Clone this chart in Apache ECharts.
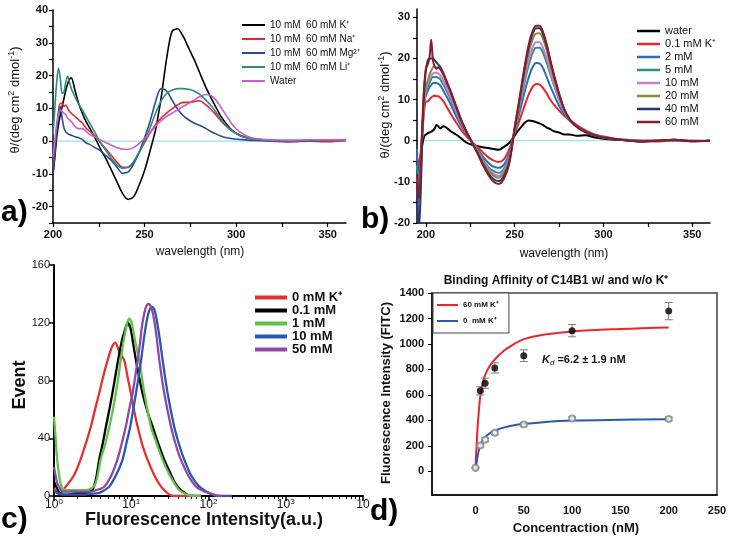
<!DOCTYPE html>
<html><head><meta charset="utf-8">
<script src="https://cdn.jsdelivr.net/npm/echarts@6.0.0/dist/echarts.min.js"></script>
<style>html,body{margin:0;padding:0;background:#fff}#c{width:730px;height:540px}</style>
</head><body><div id="c"></div>
<script>
// ---------- Panel a: CD spectra, different cations ----------
const A_NM = [200,201,202,203,204,205,206,207,208,209,210,212,214,216,218,220,223,226,229,232,235,238,241,244,247,250,253,256,259,262,265,268,271,274,277,280,283,286,289,292,295,298,302,306,310,315,320,330,340,350,360];
const A_K = [-10,-5,1,5,8,10.5,13,15.5,17.5,18.8,19.3, 15.5,11.5,8.5,6,4, 1,-2.5,-5.5,-9,-12.5,-16,-17.8,-17,-13.5,-9,-3,3.5,13,25,33.5,34.3,32,28.5,25,21,17,13.5,10.3,7.3,5,3.2, 1.8,1,0.6, 0.4,0.2, 0,0.2,0.2,0.2];
const A_NA = [-8,-2,4,9,11.5,11.5,10.5,11,10,9,8.5, 7.5,6.5,5.5,4,3, 1.5,-0.5,-2.5,-4.5,-6.5,-8,-8,-6.5,-3.5,-0.5,2.5,5,7,8.5,9.8,11,11.8,11.8,12,12.3,11.3,9.8,8,6,4.3,3, 1.8,1,0.5, 0.2,0, -0.3,0,-0.2,0.2];
const A_MG = [-10,-4,3,8,10.5,7,4,2.8,2.3,2,1.8, 1.3,1,0.5,-0.5,-1, -2,-3,-4.5,-6,-8,-9.8,-9.5,-7,-3.5,1,6,12,16,15.3,12.5,9.8,7.8,6.5,5.5,4.8,4,3,2.2,1.5,1,0.7, 0.5,0.3,0.2, 0.1,0, 0,0.1,0.2,0.3];
const A_LI = [2,10,18,22.3,19,14.5,15,18,19.8,18,16, 13.5,11.3,9.5,7.5,5.5, 2.5,-0.5,-3,-5.5,-7.3,-8.3,-8,-6.3,-3.3,0,4,8.5,12.3,14.5,15.5,16,16,15.8,15.3,14.3,12.8,11,8.8,6.5,4.5,3, 1.7,1,0.6, 0.3,0.2, 0,0.2,0.3,0.3];
const A_WATER = [-5,0,5,8,9.5,9,8.5,8,7,6.5,6, 4.5,3.8,3.8,3,2, 1.2,0.3,-0.5,-1.3,-2,-2.5,-2.5,-2,-0.8,0.8,2.5,4.5,6.2,7.5,8.5,9.5,10.5,11.5,12.5,13.5,14.2,14,12.5,10,7.5,5, 2.8,1.5,0.8, 0.5,0.3, 0.3,0.4,0.4,0.5];
const A_ZERO = [[200,0],[360,0]];
const A_XTICKS = [200,225,250,275,300,325,350];
const A_XLABELS = [200,250,300,350];
const A_YTICKS = [-25,-20,-15,-10,-5,0,5,10,15,20,25,30,35,40];
const A_YLABELS = [-20,-10,0,10,20,30,40];

// ---------- Panel b: CD spectra, K+ titration ----------
const B_NM = [195,196,197,198,199,200,201,202,203,204,205,206,207,208, 210,212,214, 217,220,223,226,229,232,235,238,241,244,247,250, 252,254,256,258,260,262,264,266,268,270,272, 275,278,281, 285, 290,295,300,305,310, 320,330,340,350,360];
const B_WATER = [-8,-6,-4,-1,1,1.5,1.8,2,2.2,2.5,3,3.8,3.5,3, 3.5,3,2.3, 1.5,0.5,-0.5,-1,-1.3,-1.6,-1.8,-2,-2.2,-1.5,-0.5,1.2, 2.5,3.5,4.5,4.9,4.8,4.5,4.2,3.8,3.2,2.8,2.3, 2,1.5,1.5, 1.2, 1.3,0.8,0.5,0.3,0.2, 0,0,0.2,-0.1,0];
const B_K01 = [-4,-6,-3,2,7,9.5,9.5,10,10.5,10.8,11,10.8,10.8,10.5, 9.5,8,6.5, 4.5,2.5,1,-0.3,-1.5,-2.8,-4,-4.8,-5.2,-4.5,-2,1.8, 4,6.5,9,11.3,13,13.8,13.7,12.8,11.5,10,8.8, 7.3,6,5, 3.8, 2.5,1.5,1,0.6,0.3, 0,-0.2,0,0,-0.1];
const B_K2 = [-2,-10,-6,3,9,11,12,13,13.5,14,14,14,13.8,13.5, 12,10.5,8.8, 6,3.5,1.5,-0.3,-2,-3.8,-5.3,-6.3,-6.6,-5.8,-3,2, 5.5,9,12.5,15.5,17.8,18.9,18.8,17.6,15.5,13.3,11.3, 8.5,6.3,4.8, 3.5, 2.2,1.4,0.9,0.5,0.3, 0,0,0.1,0,0];
const B_K5 = [-6,-12,-8,2,9,12,13,14,15,15.5,15.5,15.5,15.3,15, 13.5,11.8,10, 7,4.2,1.8,-0.3,-2.3,-4.5,-6.3,-7.4,-7.8,-6.8,-3.8,2.3, 6.5,11,15,18.5,21.2,22.6,22.6,21.3,19,16.3,13.6, 10,7,5, 3.4, 2.1,1.3,0.8,0.5,0.2, -0.2,0,0.1,-0.1,0];
const B_K10 = [-8,-18,-12,1,9,12.5,14,15,15.8,16.3,16.5,16.5,16.3,16, 14.5,12.5,10.5, 7.3,4.3,1.8,-0.4,-2.5,-4.8,-6.8,-8,-8.5,-7.3,-4,2.5, 7,11.8,16,19.8,22.5,23.9,23.9,22.5,20,17,14, 10.2,7,5, 3.3, 2,1.3,0.8,0.5,0.2, -0.2,0,0.1,-0.1,0];
const B_K20 = [-10,-15,-9,2,10,13.5,14.5,16,17,17.8,18,17.8,17.8,17.5, 15.8,13.6,11.5, 8,4.7,2,-0.4,-2.7,-5.1,-7.2,-8.5,-9,-7.8,-4.5,2.7, 7.5,12.5,17.3,21.5,24.5,26,26.1,24.7,22,18.5,15.2, 11,7.4,5.2, 3.4, 2.1,1.3,0.8,0.5,0.2, -0.2,0,0.1,-0.1,0];
const B_K40 = [-10,-22,-14,2,12,17,19.5,20,20,20,19.5,19,18.5,18, 16.3,14,11.8, 8.2,4.8,2,-0.5,-2.9,-5.5,-7.8,-9.3,-9.8,-8.5,-5,3, 8,13.3,18.5,22.8,25.8,27.3,27.3,25.8,23,19.4,16, 11.3,7.5,5.2, 3.4, 2.1,1.3,0.8,0.5,0.2, -0.2,0,0.2,-0.1,0];
const B_K60 = [-8,-14,-8,4,13,17.5,18.5,20,24.5,19.5,18,17.5,17.8,17.5, 16,14,12, 8.5,5,2.1,-0.5,-3,-5.8,-8.2,-9.9,-10.5,-9.2,-5.5,3.2, 8.3,13.8,19,23.5,26.5,27.9,27.9,26.4,23.5,19.8,16.3, 11.5,7.6,5.2, 3.4, 2.1,1.3,0.8,0.5,0.2, -0.2,0,0.2,-0.2,0];
const B_ZERO = [[198,0],[360,0]];
const B_XTICKS = [200,225,250,275,300,325,350];
const B_XLABELS = [200,250,300,350];
const B_YTICKS = [-20,-15,-10,-5,0,5,10,15,20,25,30];
const B_YLABELS = [-20,-10,0,10,20,30];

// ---------- Panel c: flow cytometry histograms ----------
const C_K0 = [[1,5],[1.1,3],[1.2,2],[1.4,6],[1.8,14],[2.2,25],[2.6,37],[3,48],[3.4,60],[3.84,71],[4.3,82],[5,95],[5.6,103],[6.2,106],[7,100],[8.1,94],[9,82],[9.9,71],[11,58],[12.1,48],[14,35],[16.3,25],[20,14],[24.3,6.5],[28,3],[31,1],[35,0],[60,0]];
const C_K01 = [[1,10],[1.1,5],[1.2,2],[1.3,1],[1.5,1],[2,2],[2.5,2],[2.8,3],[3.14,4],[3.5,12],[3.84,25],[4.3,37],[4.7,48],[5.3,62],[6,78],[6.8,95],[7.6,108],[8.4,116],[9,120],[9.8,116],[10.7,104],[11.5,94],[12.7,82],[14,71],[16.3,58],[18.9,48],[22.5,36],[26.8,25],[32,16],[37,9],[44,4],[50,2],[57,0],[80,0]];
const C_K1 = [[1,55],[1.05,40],[1.1,25],[1.2,10],[1.3,5],[1.5,4],[2,4],[2.5,4],[3,5],[3.4,8],[3.7,15],[4,25],[4.6,36],[5.2,48],[5.8,60],[6.3,71],[6.8,82],[7.3,94],[8,108],[8.7,118],[9.4,123],[10,121],[11,110],[12,100],[12.7,94],[14.8,71],[18,48],[21.5,36],[25.5,25],[31,15],[36,9],[42,4],[50,1.5],[60,0],[80,0]];
const C_K10 = [[1,4],[1.1,2],[1.3,1],[1.6,1],[2,1],[2.5,1],[3,1.5],[3.8,2],[4.5,4],[5.2,6.5],[6.3,14],[7.7,25],[8.7,37],[9.7,48],[10.6,60],[11.5,71],[12.4,82],[13.4,94],[14.5,108],[15.7,120],[17,128],[18.5,131],[20,129],[22,118],[23.8,106],[25.5,94],[29.6,71],[36,48],[42,35],[48.7,25],[60,14],[76,6.5],[95,3],[113,1],[140,0],[200,0]];
const C_K50 = [[1,20],[1.05,14],[1.1,9],[1.2,5],[1.3,3],[1.6,3],[2,3],[2.5,3],[3,3],[3.5,4],[4,5],[4.5,6.5],[5.5,14],[6.6,25],[7.5,36],[8.5,48],[9.4,60],[10.4,71],[11.2,82],[12.1,94],[13,106],[13.8,118],[14.8,127],[15.8,132],[16.8,133],[18.3,130],[19.8,122],[21.3,110],[23.1,94],[26.8,71],[32.7,48],[38,35],[44,25],[55,14],[69,6.5],[90,3],[126,0.5],[150,0]];
const C_MINOR = [2,3,4,5,6,7,8,9,20,30,40,50,60,70,80,90,200,300,400,500,600,700,800,900,2000,3000,4000,5000,6000,7000,8000,9000];
const C_XLABELS = {0:'{b|10}{s|0}',1:'{b|10}{s|1}',2:'{b|10}{s|2}',3:'{b|10}{s|3}',4:'{b|10}'};

// ---------- Panel d: binding affinity ----------
const D_FIT_X = [0,1,2,3,4,5,7,10,15,20,30,40,50,70,100,150,200];
const D_FIT_K60 = [20,180,320,430,520,590,680,755,830,878,950,1000,1038,1072,1098,1118,1130];
const D_FIT_K0 = [0,60,110,150,180,205,238,268,300,320,345,362,372,386,398,405,409];
const D_K60_X = [5,10,20,50,100,200];
const D_K60_MEAN = [632,692,812,908,1104,1258];
const D_K60_ERR = [32,40,40,46,48,68];
const D_K0_X = [0,5,10,20,50,100,200];
const D_K0_MEAN = [28,202,248,302,368,414,411];
const D_K0_ERR = [0,12,15,15,15,12,15];
const D_XLABELS = [0,50,100,150,200,250];
const D_YLABELS = [0,200,400,600,800,1000,1200,1400];

// ---------- helpers ----------
const FONT = "'Liberation Sans', Arial, Helvetica, sans-serif";
const zip = (xs, ys) => xs.map((x, i) => [x, ys[i]]);
const zip3 = (xs, ys, es) => xs.map((x, i) => [x, ys[i], es[i]]);
const plain = v => String(v);

function line(name, data, color, xi, width, extra) {
  return Object.assign({
    name, type: 'line', data, xAxisIndex: xi, yAxisIndex: xi,
    showSymbol: false, symbol: 'none', smooth: 0.3,
    lineStyle: { color, width }, itemStyle: { color }, z: 3
  }, extra || {});
}

function cdX(grid, min, ticks, labels) {
  return {
    gridIndex: grid, type: 'value', min, max: 360,
    axisLine: { onZero: false, lineStyle: { color: '#000', width: 1.5 } },
    axisTick: { show: true, length: 4, customValues: ticks, lineStyle: { color: '#000', width: 1.2 } },
    axisLabel: { customValues: labels, formatter: plain, margin: 6, fontSize: 11, fontWeight: 'bold', color: '#111', fontFamily: FONT },
    splitLine: { show: false }
  };
}
function cdY(grid, min, max, ticks, labels, margin) {
  return {
    gridIndex: grid, type: 'value', min, max,
    axisLine: { show: true, onZero: false, lineStyle: { color: '#000', width: 1.5 } },
    axisTick: { show: true, length: 4, customValues: ticks, lineStyle: { color: '#000', width: 1.2 } },
    axisLabel: { customValues: labels, formatter: plain, margin, fontSize: 11, fontWeight: 'bold', color: '#111', fontFamily: FONT },
    splitLine: { show: false }
  };
}

function errRender(params, api) {
  const x = api.value(0), y = api.value(1), e = api.value(2);
  const hi = api.coord([x, y + e]), lo = api.coord([x, y - e]);
  const w = 4, st = { stroke: '#7d7d7d', lineWidth: 1 };
  return { type: 'group', children: [
    { type: 'line', shape: { x1: hi[0], y1: hi[1], x2: lo[0], y2: lo[1] }, style: st },
    { type: 'line', shape: { x1: hi[0] - w, y1: hi[1], x2: hi[0] + w, y2: hi[1] }, style: st },
    { type: 'line', shape: { x1: lo[0] - w, y1: lo[1], x2: lo[0] + w, y2: lo[1] }, style: st }
  ]};
}

const A_NAMES = ['10 mM  60 mM K\u207A', '10 mM  60 mM Na\u207A', '10 mM  60 mM Mg\u00B2\u207A', '10 mM  60 mM Li\u207A', 'Water'];
const B_NAMES = ['water', '0.1 mM K\u207A', '2 mM', '5 mM', '10 mM', '20 mM', '40 mM', '60 mM'];
const C_NAMES = ['0 mM K\u207A', '0.1 mM', '1 mM', '10 mM\u00A0', '50 mM'];
const D_NAMES = ['60 mM K\u207A', '0  mM K\u207A'];

const A_COLORS = ['#000000', '#e8262b', '#2a4b9b', '#2a8c82', '#c261c8'];
const B_COLORS = ['#000000', '#e8262b', '#2e6db5', '#2a9189', '#c77dd0', '#8b8b3a', '#253a78', '#8c1c24'];
const C_COLORS = ['#e53030', '#000000', '#5fc348', '#2b57b0', '#8e48a6'];
const D_COLORS = ['#e8262b', '#2a5aa8'];

const series = [];
// panel a
series.push({ type: 'line', data: A_ZERO, xAxisIndex: 0, yAxisIndex: 0, symbol: 'none', lineStyle: { color: '#8ed4e6', width: 1 }, z: 1, silent: true });
[A_K, A_NA, A_MG, A_LI, A_WATER].forEach((v, i) => series.push(line(A_NAMES[i], zip(A_NM, v), A_COLORS[i], 0, 1.6)));
// panel b
series.push({ type: 'line', data: B_ZERO, xAxisIndex: 1, yAxisIndex: 1, symbol: 'none', lineStyle: { color: '#8ed4e6', width: 1 }, z: 1, silent: true });
[B_WATER, B_K01, B_K2, B_K5, B_K10, B_K20, B_K40, B_K60].forEach((v, i) => series.push(line(B_NAMES[i], zip(B_NM, v), B_COLORS[i], 1, 2)));
// panel c
[C_K0, C_K01, C_K1, C_K10, C_K50].forEach((v, i) => series.push(line(C_NAMES[i], v, C_COLORS[i], 2, 2.3)));
// panel d
series.push(line(D_NAMES[0], zip(D_FIT_X, D_FIT_K60), D_COLORS[0], 3, 2, { smooth: 0.4 }));
series.push(line(D_NAMES[1], zip(D_FIT_X, D_FIT_K0), D_COLORS[1], 3, 2, { smooth: 0.4 }));
series.push({ type: 'custom', xAxisIndex: 3, yAxisIndex: 3, renderItem: errRender, data: zip3(D_K60_X, D_K60_MEAN, D_K60_ERR), encode: { x: 0, y: 1 }, z: 4, silent: true });
series.push({ type: 'custom', xAxisIndex: 3, yAxisIndex: 3, renderItem: errRender, data: zip3(D_K0_X, D_K0_MEAN, D_K0_ERR), encode: { x: 0, y: 1 }, z: 4, silent: true });
series.push({ name: '60 mM K\u207A data', type: 'scatter', xAxisIndex: 3, yAxisIndex: 3, data: zip(D_K60_X, D_K60_MEAN), symbol: 'circle', symbolSize: 7, itemStyle: { color: '#000' }, z: 5 });
series.push({ name: '0 mM K\u207A data', type: 'scatter', xAxisIndex: 3, yAxisIndex: 3, data: zip(D_K0_X, D_K0_MEAN), symbol: 'emptyCircle', symbolSize: 6, itemStyle: { color: '#8a8a8a', borderColor: '#8a8a8a', borderWidth: 1 }, z: 5 });

const txt = (text, x, y, size, opts) => Object.assign({
  type: 'text', x, y, silent: true,
  style: Object.assign({ text, fontSize: size, fontFamily: FONT, fill: '#111', align: 'center', verticalAlign: 'middle' }, (opts && opts.style) || {})
}, (opts && opts.el) || {});

const cdYName = {
  n: { fontSize: 13, fontFamily: FONT, fill: '#111', lineHeight: 16 },
  s: { fontSize: 9, fontFamily: FONT, fill: '#111', lineHeight: 10, verticalAlign: 'top' }
};

const option = {
  animation: false,
  backgroundColor: '#fff',
  textStyle: { fontFamily: FONT },
  grid: [
    { left: 53, top: 10, width: 293, height: 213, containLabel: false, outerBoundsMode: 'none' },
    { left: 417, top: 9, width: 293, height: 214, containLabel: false, outerBoundsMode: 'none' },
    { left: 54, top: 265, width: 309, height: 231, containLabel: false, outerBoundsMode: 'none' },
    { left: 432, top: 293, width: 285, height: 202, containLabel: false, outerBoundsMode: 'none', show: true, borderColor: '#444', borderWidth: 1.5, backgroundColor: 'transparent' }
  ],
  xAxis: [
    cdX(0, 200, A_XTICKS, A_XLABELS),
    cdX(1, 195, B_XTICKS, B_XLABELS),
    {
      gridIndex: 2, type: 'log', logBase: 10, min: 1, max: 10000, splitNumber: 4,
      axisLine: { onZero: false, lineStyle: { color: '#000', width: 2 } },
      axisTick: { show: true, length: 5, lineStyle: { color: '#000', width: 1.5 } },
      axisLabel: {
        margin: 2, color: '#111', fontFamily: FONT,
        formatter: v => C_XLABELS[Math.round(Math.log10(v))],
        rich: {
          b: { fontSize: 12, fontFamily: FONT, color: '#111', lineHeight: 13 },
          s: { fontSize: 8, fontFamily: FONT, color: '#111', lineHeight: 8, verticalAlign: 'top' }
        }
      },
      splitLine: { show: false }, minorTick: { show: false }
    },
    {
      gridIndex: 3, type: 'value', min: -45, max: 250,
      axisLine: { onZero: false, lineStyle: { color: '#000', width: 1.5 } },
      axisTick: { show: false },
      axisLabel: { customValues: D_XLABELS, formatter: plain, margin: 10, fontSize: 11, fontWeight: 'bold', color: '#111', fontFamily: FONT },
      splitLine: { show: false }
    },
    {
      gridIndex: 2, type: 'value', min: 0, max: 4, position: 'bottom',
      axisLine: { show: false, onZero: false },
      axisTick: { show: true, length: 3, customValues: C_MINOR.map(Math.log10), lineStyle: { color: '#000', width: 1 } },
      axisLabel: { show: false }, splitLine: { show: false }
    }
  ],
  yAxis: [
    cdY(0, -25, 40, A_YTICKS, A_YLABELS, 5),
    cdY(1, -20, 32, B_YTICKS, B_YLABELS, 7),
    {
      gridIndex: 2, type: 'value', min: 0, max: 160, interval: 40,
      axisLine: { show: true, onZero: false, lineStyle: { color: '#000', width: 2 } },
      axisTick: { show: true, length: 5, lineStyle: { color: '#000', width: 1.5 } },
      axisLabel: { formatter: plain, margin: 4, fontSize: 11, color: '#111', fontFamily: FONT },
      splitLine: { show: false }
    },
    {
      gridIndex: 3, type: 'value', min: -186, max: 1400,
      axisLine: { show: true, onZero: false, lineStyle: { color: '#000', width: 1.5 } },
      axisTick: { show: true, length: 4, customValues: D_YLABELS, lineStyle: { color: '#000', width: 1 } },
      axisLabel: { customValues: D_YLABELS, formatter: plain, margin: 8, fontSize: 11, fontWeight: 'bold', color: '#111', fontFamily: FONT },
      splitLine: { show: false }
    }
  ],
  legend: [
    { data: A_NAMES, left: 242, top: 19, orient: 'vertical', icon: 'rect', itemWidth: 23, itemHeight: 2, itemGap: 2, padding: 0, selectedMode: false,
      textStyle: { fontSize: 10, lineHeight: 12, color: '#111', fontFamily: FONT } },
    { data: B_NAMES, left: 637, top: 25, orient: 'vertical', icon: 'rect', itemWidth: 23, itemHeight: 2.5, itemGap: 1, padding: 0, selectedMode: false,
      textStyle: { fontSize: 11, lineHeight: 12, color: '#111', fontFamily: FONT } },
    { data: C_NAMES, left: 255, top: 291, orient: 'vertical', icon: 'rect', itemWidth: 32, itemHeight: 4, itemGap: 0, padding: 0, selectedMode: false,
      textStyle: { fontSize: 13, fontWeight: 'bold', lineHeight: 12, color: '#111', fontFamily: FONT } },
    { data: D_NAMES, left: 433, top: 293, orient: 'vertical', icon: 'rect', itemWidth: 21, itemHeight: 2, itemGap: 6, padding: [7, 10, 7, 4], selectedMode: false,
      borderColor: '#444', borderWidth: 1, backgroundColor: '#fff',
      textStyle: { fontSize: 8, fontWeight: 'bold', lineHeight: 10, color: '#111', fontFamily: FONT } }
  ],
  graphic: { elements: [
    // panel labels
    txt('a)', 1, 213, 30, { style: { fontWeight: 'bold', align: 'left', fill: '#000' } }),
    txt('b)', 361, 220, 30, { style: { fontWeight: 'bold', align: 'left', fill: '#000' } }),
    txt('c)', 1, 520, 30, { style: { fontWeight: 'bold', align: 'left', fill: '#000' } }),
    txt('d)', 370, 512, 30, { style: { fontWeight: 'bold', align: 'left', fill: '#000' } }),
    // panel a names
    { type: 'text', x: 15, y: 100, rotation: Math.PI / 2, silent: true,
      style: { text: '{n|\u03B8/(deg cm}{s|2}{n| dmol}{s|-1}{n|)}', rich: cdYName, align: 'center', verticalAlign: 'middle', fontFamily: FONT } },
    txt('wavelength (nm)', 200, 252, 12),
    // panel b names
    { type: 'text', x: 385, y: 105, rotation: Math.PI / 2, silent: true,
      style: { text: '{n|\u03B8/(deg cm}{s|2}{n| dmol}{s|-1}{n|)}', rich: cdYName, align: 'center', verticalAlign: 'middle', fontFamily: FONT } },
    txt('wavelength (nm)', 564, 254, 12),
    // panel c names
    txt('Event', 20, 385, 18, { style: { fontWeight: 'bold' }, el: { rotation: Math.PI / 2 } }),
    txt('Fluorescence Intensity(a.u.)', 204, 520, 18, { style: { fontWeight: 'bold' } }),
    // panel d names
    txt('Binding Affinity of C14B1 w/ and w/o K\u207A', 556, 281, 12, { style: { fontWeight: 'bold' } }),
    txt('Fluorescence Intensity (FITC)', 386, 393, 13, { style: { fontWeight: 'bold' }, el: { rotation: Math.PI / 2 } }),
    txt('Concentraction (nM)', 576, 528, 13, { style: { fontWeight: 'bold' } }),
    { type: 'text', x: 542, y: 360, silent: true,
      style: { text: '{i|K}{d|d}{t| =6.2 \u00B1 1.9 nM}', align: 'left', verticalAlign: 'middle',
        rich: {
          i: { fontSize: 11, fontStyle: 'italic', fontWeight: 'bold', fontFamily: FONT, fill: '#111', lineHeight: 14 },
          d: { fontSize: 8, fontStyle: 'italic', fontFamily: FONT, fill: '#111', lineHeight: 9, verticalAlign: 'bottom' },
          t: { fontSize: 11, fontWeight: 'bold', fontFamily: FONT, fill: '#111', lineHeight: 14 }
        } } }
  ] },
  series
};

const chart = echarts.init(document.getElementById('c'), null, { renderer: 'canvas', width: 730, height: 540 });
chart.setOption(option);
</script>
</body></html>
